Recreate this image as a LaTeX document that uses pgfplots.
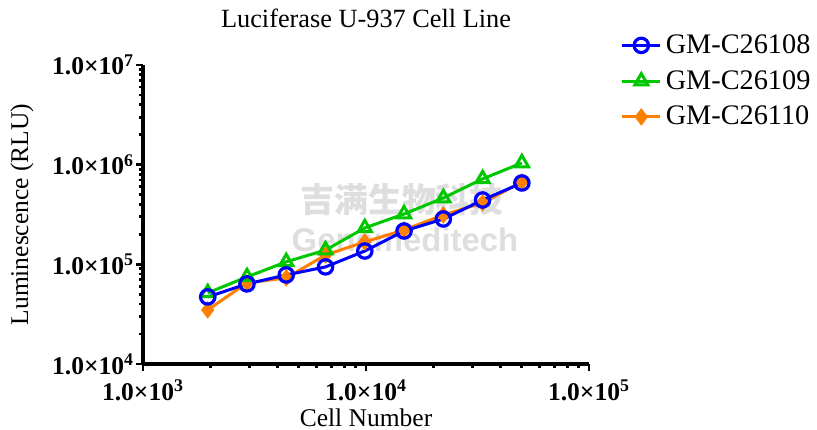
\documentclass[border=0pt]{standalone}
\usepackage{pgfplots}
\pgfplotsset{compat=1.18}
\usepackage{fontspec}
\setmainfont{Liberation Serif}
\newfontfamily\wmsans{Liberation Sans}
\newfontfamily\cjk{Noto Sans CJK SC}

\definecolor{cblue}{RGB}{0,0,255}
\definecolor{cgreen}{RGB}{0,200,0}
\definecolor{corange}{RGB}{255,128,0}
\definecolor{wmgray}{RGB}{222,222,222}

\begin{document}
\begin{tikzpicture}
% page size: 817x430 px at 0.5bp per px, axis corner at (0,0)
\useasboundingbox (-71.5bp,-33bp) rectangle (337bp,182bp);

% watermark
\node[text=wmgray, font=\cjk\bfseries\fontsize{17}{17}\selectfont] at (129.5bp,82bp) {吉满生物科技};
\node[text=wmgray, font=\wmsans\bfseries\fontsize{16.5}{16.5}\selectfont] at (131bp,62bp) {Genemeditech};

\begin{axis}[
    at={(0,0)}, anchor=south west,
    scale only axis,
    width=223bp, height=149.5bp,
    xmode=log, ymode=log,
    xmin=1000, xmax=100000,
    ymin=10000, ymax=10000000,
    axis lines=left,
    axis line style={-, line width=2bp},
    tick style={black, line width=1.4bp},
    tick align=outside,
    major tick length=3.5bp, minor tick length=2.2bp,
    xtick={1000,10000,100000},
    ytick={10000,100000,1000000,10000000},
    minor xtick={2000,3000,4000,5000,6000,7000,8000,9000,20000,30000,40000,50000,60000,70000,80000,90000},
    minor ytick={20000,30000,40000,50000,60000,70000,80000,90000,200000,300000,400000,500000,600000,700000,800000,900000,2000000,3000000,4000000,5000000,6000000,7000000,8000000,9000000},
    xticklabels={\textbf{1.0×10\textsuperscript{3}},\textbf{1.0×10\textsuperscript{4}},\textbf{1.0×10\textsuperscript{5}}},
    yticklabels={\textbf{1.0×10\textsuperscript{4}},\textbf{1.0×10\textsuperscript{5}},\textbf{1.0×10\textsuperscript{6}},\textbf{1.0×10\textsuperscript{7}}},
    ticklabel style={font=\fontsize{12.8}{14}\selectfont},
    xticklabel style={yshift=-1bp},
    yticklabel style={xshift=2.5bp},
    xlabel={Cell Number},
    ylabel={Luminescence (RLU)},
    label style={font=\fontsize{12.8}{14}\selectfont},
    xlabel style={at={(axis description cs:0.5,0)}, anchor=center, yshift=-27bp},
    ylabel style={at={(axis description cs:-0.2713,0.5)}, anchor=center},
    title={Luciferase U-937 Cell Line},
    title style={font=\fontsize{13.2}{15}\selectfont, at={(axis description cs:0.5,1)}, anchor=center, yshift=17.5bp},
    reverse legend,
    legend style={at={(axis description cs:1.057,1.13)}, anchor=north west, draw=none, fill=none,
        font=\fontsize{14.2}{16}\selectfont, row sep=3bp,
        /tikz/every even column/.append style={column sep=2bp}},
    legend cell align=left,
    legend image code/.code={\draw[mark repeat=2,mark phase=2] plot coordinates {(0bp,0bp)(9.5bp,0bp)(19bp,0bp)};},
    clip=false,
]
\addplot[corange, line width=1.5bp, mark=diamond*, mark size=3.6bp, mark options={fill=corange, line width=1bp}] coordinates {
    (1951,34900) (2926,65000) (4390,73100) (6584,124000) (9877,168000)
    (14815,221000) (22222,313000) (33333,413000) (50000,670000)
};
\addlegendentry{GM-C26110}
\addplot[cgreen, line width=1.5bp, mark=triangle, mark size=3.8bp, mark options={line width=1.5bp}] coordinates {
    (1951,51700) (2926,74800) (4390,106000) (6584,139000) (9877,232000)
    (14815,320000) (22222,463000) (33333,720000) (50000,1040000)
};
\addlegendentry{GM-C26109}
\addplot[cblue, line width=1.5bp, mark=o, mark size=3.6bp, mark options={line width=1.6bp}] coordinates {
    (1951,47100) (2926,63600) (4390,78300) (6584,94200) (9877,136000)
    (14815,216000) (22222,285000) (33333,442000) (50000,655000)
};
\addlegendentry{GM-C26108}
\end{axis}
\end{tikzpicture}
\end{document}
